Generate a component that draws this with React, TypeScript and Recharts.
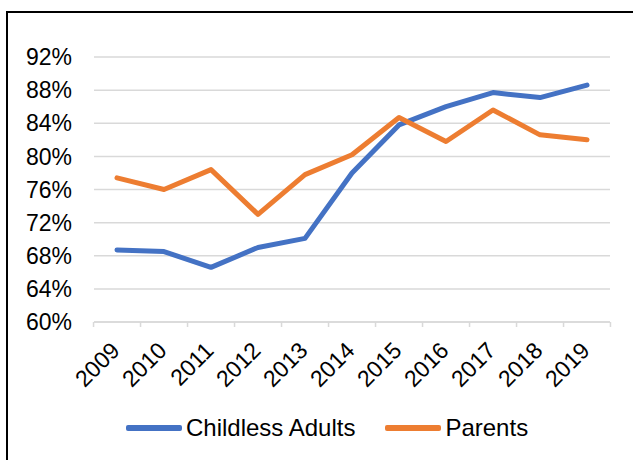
import { LineChart, Line, XAxis, YAxis, CartesianGrid, Legend } from 'recharts';

const years = ['2009', '2010', '2011', '2012', '2013', '2014', '2015', '2016', '2017', '2018', '2019'];
const childlessAdults = [68.7, 68.5, 66.6, 69.0, 70.1, 78.0, 83.8, 86.0, 87.7, 87.1, 88.6];
const parents = [77.4, 76.0, 78.4, 73.0, 77.8, 80.2, 84.7, 81.8, 85.6, 82.6, 82.0];
const yTicks = [60, 64, 68, 72, 76, 80, 84, 88, 92];

const data = years.map((year, i) => ({
  year,
  childless: childlessAdults[i],
  parents: parents[i],
}));

const FONT = '"Liberation Sans", Arial, sans-serif';
const GRID = '#d9d9d9';

// excel-style category axis: tick marks sit between categories, labels rotated 45deg
function YearTick(props: any) {
  const { x, y, payload, index, width } = props;
  const step = (width || 516) / years.length;
  const half = step / 2;
  const isLast = index === years.length - 1;
  return (
    <g>
      <line x1={x - half} y1={y} x2={x - half} y2={y + 5} stroke={GRID} strokeWidth={1.5} />
      {isLast && <line x1={x + half} y1={y} x2={x + half} y2={y + 5} stroke={GRID} strokeWidth={1.5} />}
      <text
        transform={`translate(${x + 4},${y + 30}) rotate(-45)`}
        textAnchor="end"
        fontSize={23}
        fontFamily={FONT}
        fill="#000"
      >
        {payload.value}
      </text>
    </g>
  );
}

function LegendContent(props: any) {
  const { payload = [] } = props;
  return (
    <div
      style={{
        height: 40,
        display: 'flex',
        alignItems: 'center',
        paddingLeft: 126,
        fontFamily: FONT,
        fontSize: 24,
        color: '#000',
      }}
    >
      {payload.map((entry: any, i: number) => (
        <div key={entry.value} style={{ display: 'flex', alignItems: 'center', marginLeft: i > 0 ? 30 : 0 }}>
          <span
            style={{
              display: 'inline-block',
              width: 56,
              height: 6,
              borderRadius: 2,
              background: entry.color,
              marginRight: 4,
            }}
          />
          <span>{entry.value}</span>
        </div>
      ))}
    </div>
  );
}

export default function App() {
  return (
    <div style={{ position: 'absolute', left: 0, top: 0, width: 633, height: 460, overflow: 'hidden', background: '#fff' }}>
      <div
        style={{
          position: 'absolute',
          left: 6,
          top: 11,
          width: 700,
          height: 520,
          border: '2px solid #000',
        }}
      />
      <div style={{ position: 'absolute', left: 0, top: 0 }}>
        <LineChart width={633} height={460} data={data} margin={{ top: 57, right: 23, left: 0, bottom: 12 }}>
          <CartesianGrid horizontal vertical={false} stroke={GRID} strokeWidth={1.5} />
          <XAxis
            dataKey="year"
            height={86}
            padding={{ left: 23, right: 23 }}
            interval={0}
            tickSize={0}
            tickMargin={0}
            tickLine={false}
            axisLine={{ stroke: GRID, strokeWidth: 1.5 }}
            tick={<YearTick />}
          />
          <YAxis
            width={94}
            domain={[60, 92]}
            ticks={yTicks}
            interval={0}
            axisLine={false}
            tickLine={false}
            tickSize={0}
            tickMargin={22}
            tickFormatter={(v: number) => `${v}%`}
            tick={{ fontSize: 23, fontFamily: FONT, fill: '#000' }}
          />
          <Legend verticalAlign="bottom" content={<LegendContent />} />
          <Line
            type="linear"
            dataKey="childless"
            name="Childless Adults"
            stroke="#4472C4"
            strokeWidth={5}
            strokeLinejoin="round"
            strokeLinecap="round"
            dot={false}
            isAnimationActive={false}
          />
          <Line
            type="linear"
            dataKey="parents"
            name="Parents"
            stroke="#ED7D31"
            strokeWidth={5}
            strokeLinejoin="round"
            strokeLinecap="round"
            dot={false}
            isAnimationActive={false}
          />
        </LineChart>
      </div>
    </div>
  );
}
